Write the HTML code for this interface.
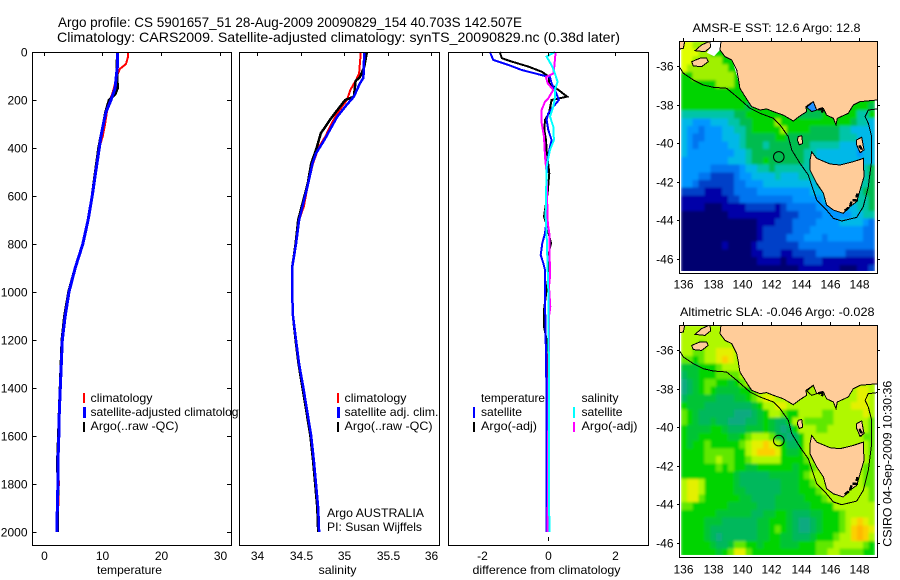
<!DOCTYPE html>
<html>
<head>
<meta charset="utf-8">
<title>Argo profile 5901657_51</title>
<style>
html,body{margin:0;padding:0;background:#fff;}
svg{display:block;position:absolute;left:0;top:0;}
text{font-family:"Liberation Sans",sans-serif;font-size:12px;fill:#000;}
.t14{font-size:14px;}
</style>
</head>
<body>
<svg id="chart" xmlns="http://www.w3.org/2000/svg" width="900" height="580" viewBox="0 0 900 580">
  <defs>
    <filter id="heat-soften" x="-5%" y="-5%" width="110%" height="110%"><feGaussianBlur stdDeviation="1.2"/></filter>
  </defs>
  <rect x="0" y="0" width="900" height="580" fill="#fff"/>
  <text class="t14" x="58" y="27" textLength="464" lengthAdjust="spacingAndGlyphs">Argo profile: CS 5901657_51 28-Aug-2009 20090829_154 40.703S 142.507E</text>
  <text class="t14" x="57" y="42" textLength="563" lengthAdjust="spacingAndGlyphs">Climatology: CARS2009. Satellite-adjusted climatology: synTS_20090829.nc (0.38d later)</text>
  <g id="p1"></g>
  <g id="p2"></g>
  <g id="p3"></g>
  <g id="m1"></g>
  <g id="m2"></g>

  <g>
    <rect x="83" y="393" width="2" height="10" fill="#f00"/>
    <rect x="83" y="407" width="3" height="11" fill="#00f"/>
    <rect x="83" y="422" width="2" height="10" fill="#000"/>
    <text x="90.5" y="402" textLength="62" lengthAdjust="spacingAndGlyphs">climatology</text>
    <text x="90.5" y="416" textLength="154" lengthAdjust="spacingAndGlyphs">satellite-adjusted climatology</text>
    <text x="90.5" y="430" textLength="88" lengthAdjust="spacingAndGlyphs">Argo(..raw -QC)</text>
  </g>
  <rect x="240" y="405" width="5" height="18" fill="#fff"/>
  <rect x="239" y="400" width="1" height="30" fill="#000"/>

  <g>
    <rect x="337" y="393" width="2" height="10" fill="#f00"/>
    <rect x="337" y="407" width="3" height="11" fill="#00f"/>
    <rect x="337" y="422" width="2" height="10" fill="#000"/>
    <text x="344.5" y="402" textLength="62" lengthAdjust="spacingAndGlyphs">climatology</text>
    <text x="344.5" y="416" textLength="94" lengthAdjust="spacingAndGlyphs">satellite adj. clim.</text>
    <text x="344.5" y="430" textLength="88" lengthAdjust="spacingAndGlyphs">Argo(..raw -QC)</text>
    <text x="327" y="517" textLength="97" lengthAdjust="spacingAndGlyphs">Argo AUSTRALIA</text>
    <text x="327" y="531" textLength="95" lengthAdjust="spacingAndGlyphs">PI: Susan Wijffels</text>
  </g>

  <g>
    <text x="481" y="402" textLength="64" lengthAdjust="spacingAndGlyphs">temperature</text>
    <rect x="473" y="407" width="2" height="11" fill="#00f"/>
    <text x="481" y="416" textLength="41" lengthAdjust="spacingAndGlyphs">satellite</text>
    <rect x="473" y="422" width="2" height="10" fill="#000"/>
    <text x="481" y="430" textLength="56" lengthAdjust="spacingAndGlyphs">Argo(-adj)</text>
    <text x="581.5" y="402" textLength="37" lengthAdjust="spacingAndGlyphs">salinity</text>
    <rect x="573" y="407" width="2" height="11" fill="#0ff"/>
    <text x="581.5" y="416" textLength="41" lengthAdjust="spacingAndGlyphs">satellite</text>
    <rect x="573" y="422" width="2" height="10" fill="#f0f"/>
    <text x="581.5" y="430" textLength="56" lengthAdjust="spacingAndGlyphs">Argo(-adj)</text>
  </g>

  <text x="97" y="574" textLength="65" lengthAdjust="spacingAndGlyphs">temperature</text>
  <text x="318.5" y="574" textLength="38" lengthAdjust="spacingAndGlyphs">salinity</text>
  <text x="472.5" y="574" textLength="148" lengthAdjust="spacingAndGlyphs">difference from climatology</text>
  <text x="692.5" y="32" textLength="168" lengthAdjust="spacingAndGlyphs">AMSR-E SST: 12.6 Argo: 12.8</text>
  <text x="680" y="316" textLength="194.5" lengthAdjust="spacingAndGlyphs">Altimetric SLA: -0.046 Argo: -0.028</text>
  <text transform="translate(891.5 546.7) rotate(-90)" x="0" y="0" textLength="166" lengthAdjust="spacingAndGlyphs">CSIRO 04-Sep-2009 10:30:36</text>
</svg>

<script>
/* ---------- profile data ---------- */
var tempDepths = [0,20,50,70,100,150,175,200,250,300,350,400,500,600,700,800,900,1000,1100,1200,1400,1500,1600,1700,1800,1900,2000];
var tempClimatology = [14.45,14.4,14.05,13.03,12.5,12.0,11.7,11.3,10.8,10.5,10.1,9.5,8.9,8.3,7.6,6.7,5.4,4.35,3.7,3.2,2.87,2.75,2.65,2.55,2.6,2.5,2.45];
var tempSatellite = [12.64,12.64,12.6,12.55,12.4,12.2,11.85,11.5,10.65,10.2,9.8,9.5,8.9,8.3,7.6,6.7,5.4,4.35,3.7,3.2,2.87,2.7,2.6,2.47,2.45,2.35,2.3];
var tempArgo = [12.6,12.6,12.5,12.5,12.5,12.6,12.2,11.2,10.6,10.2,9.8,9.4,8.85,8.3,7.6,6.7,5.4,4.3,3.6,3.15,2.85,2.7,2.55,2.4,2.45,2.4,2.4];

var salClimDepths = [0,89,113,158,200,255,297,353,394,464,547,644,700,800,900,1000,1100,1200,1300,1400,1500,1600,1700,1800,1900,2000];
var salClimatology = [35.19,35.17,35.14,35.07,35.03,34.92,34.855,34.78,34.71,34.64,34.585,34.535,34.48,34.445,34.4,34.4,34.41,34.445,34.48,34.53,34.575,34.62,34.65,34.675,34.7,34.71];
var salSatDepths = [0,108,130,186,228,269,311,367,422,464,547,644,700,800,900,1000,1100,1200,1300,1400,1500,1600,1700,1800,1900,2000];
var salSatellite = [35.23,35.22,35.18,35.11,35.01,34.92,34.855,34.77,34.675,34.635,34.585,34.52,34.48,34.445,34.4,34.4,34.41,34.445,34.48,34.53,34.575,34.62,34.65,34.675,34.7,34.71];
var salArgoDepths = [0,61,104,121,186,200,242,283,339,408,464,547,644,700,800,900,1000,1100,1200,1300,1400,1500,1600,1700,1800,1900,2000];
var salArgo = [35.26,35.23,35.18,35.13,35.11,35.01,34.92,34.835,34.73,34.675,34.62,34.58,34.51,34.47,34.44,34.4,34.4,34.41,34.44,34.475,34.52,34.565,34.61,34.64,34.665,34.69,34.7];

var diffTempSatDepths = [0,33,54,75,89,105,130,158,200,228,255,283,325,367,394,450,533,700,755,797,846,880,908,1033,1172,1367,2000];
var diffTempSat = [-1.76,-1.66,-1.2,-0.8,-0.4,0.05,0.1,0.2,0.32,0.15,0,-0.05,0,0.1,0.05,-0.02,-0.06,-0.05,-0.1,-0.18,-0.23,-0.15,-0.1,-0.1,-0.08,-0.06,-0.06];
var diffTempArgoDepths = [0,26,40,61,82,103,130,158,186,200,255,283,325,367,408,505,589,686,710,797,825,936,1075,1145,1200,2000];
var diffTempArgo = [-1.46,-1.4,-1.1,-0.6,-0.2,0.02,0.02,0.3,0.57,0.1,0.02,-0.1,-0.12,-0.07,-0.05,0.03,-0.02,-0.13,-0.07,0.08,0.03,0,-0.13,-0.13,-0.05,-0.03];
var diffSalSatDepths = [0,19,61,89,124,158,193,228,269,311,367,408,478,617,686,755,894,1033,2000];
var diffSalSat = [0.2,-0.05,0.12,0.2,0.28,0.2,0.2,0.15,0.05,0.15,0.17,0.05,-0.05,-0.07,-0.08,-0.05,-0.02,0.01,0.03];
var diffSalArgoDepths = [0,61,89,105,130,158,193,207,241,297,353,436,505,700,728,755,936,978,1061,1103,2000];
var diffSalArgo = [0.22,0.18,0.15,-0.07,-0.02,0.15,0,-0.1,-0.2,-0.2,-0.13,-0.1,-0.05,-0.02,0,0.03,0.05,0.02,0.06,0.02,-0.02];

/* ---------- axis tick labels ---------- */
var depthTicks = [0,200,400,600,800,1000,1200,1400,1600,1800,2000];
var tempTicks = [0,10,20,30];
var salTicks = [34,34.5,35,35.5,36];
var diffTicks = [-2,0,2];
var lonTicks = [136,138,140,142,144,146,148];
var latTicks = [-36,-38,-40,-42,-44,-46];

/* ---------- map fields: one character per 0.4 degree cell, north to south ---------- */
var sstField = [
"aa999 88888 88888 88888 88888 88888 888",
"aaa99 88888 88888 88888 88888 88888 888",
"aa999 99888 88888 88888 88888 88888 888",
"a9999 99988 88888 88888 88888 88888 888",
"88999 99998 88888 88888 88888 88888 888",
"88888 89998 88888 88888 88888 88888 888",
"88888 88888 88888 88888 88888 88888 888",
"88888 88888 88888 88888 88888 88888 888",
"88888 88888 87888 88888 88888 88888 887",
"66666 66667 78888 88888 77778 88888 668",
"55444 55566 77888 89888 88888 88887 665",
"54434 44556 67888 88988 88777 77665 555",
"54334 44555 67777 78877 77777 77666 555",
"54344 44455 67776 77777 77666 66555 455",
"54444 44445 56777 77777 76655 55555 455",
"44444 44455 56778 77777 76655 55555 555",
"44444 33333 45566 76666 66655 55555 567",
"44433 22223 44555 56555 66666 66666 667",
"44322 22223 34445 55555 55566 66666 667",
"22221 11223 33344 44444 44555 55666 677",
"11111 11122 33333 33334 44445 56666 667",
"11110 00111 12222 21233 33344 44555 667",
"00000 00011 11111 11222 33334 44445 566",
"00000 00000 00011 12223 33344 44555 543",
"00000 00000 00012 22223 33444 44444 433",
"00000 00000 00012 22233 34443 44444 433",
"00000 00100 00122 22222 33333 33333 333",
"00000 00000 00112 22112 22233 33322 222",
"00000 00000 00011 11011 12221 11111 111",
"00000 00000 00000 00000 11111 11000 112"
];
var slaField = [
"55555 55555 55555 55555 55555 55555 555",
"55555 55555 55555 55555 55555 55555 555",
"55545 55555 55555 55555 55555 55555 555",
"55445 56665 55555 55555 55555 55555 555",
"44345 56765 55555 55555 55555 55555 555",
"22233 34555 55555 55555 55555 55555 555",
"12233 34444 55555 55555 55555 55555 555",
"01234 43323 45555 55555 55555 55555 555",
"01234 32222 33455 55555 55555 55555 665",
"12222 21112 23456 65555 55555 55555 665",
"32221 11111 11235 56655 55555 55556 665",
"43211 11110 00123 55433 55554 45555 565",
"43211 21100 01123 21135 54444 45555 554",
"32222 33211 12223 21013 55544 55555 554",
"32233 33322 34555 42101 35555 55555 544",
"32334 33333 45667 65311 35655 55555 554",
"33334 44443 35677 76322 35555 55555 554",
"33334 45443 34555 55333 34555 55555 554",
"33333 34343 32233 33332 33455 55555 544",
"33333 33332 11111 22222 34555 55555 544",
"56653 33332 11111 11222 33455 55555 544",
"56653 33332 21111 11222 33345 55555 554",
"56643 33333 22111 12222 23334 55555 554",
"44333 33322 22211 12222 22333 35555 555",
"33333 32222 22112 23321 11223 33455 555",
"33332 22111 11122 33321 00123 33456 765",
"33332 11111 11122 34321 00123 33457 876",
"33332 10111 11122 33221 11233 34557 875",
"33333 21124 43323 33222 33344 45555 543",
"33333 32346 64333 33333 33344 55444 433"
];

/* ---------- geography (lon, lat) ---------- */
var mainlandCoast = [[138.57,-34.7],[138.5,-35.15],[138.84,-35.5],[139.3,-35.67],[139.64,-36.19],[139.75,-36.62],[139.86,-37.14],[140.36,-37.75],[140.66,-38.09],[141.23,-38.27],[141.68,-38.21],[142.14,-38.35],[142.82,-38.53],[143.5,-38.84],[143.95,-38.58],[144.41,-38.35],[144.36,-38.09],[144.86,-37.83],[145.09,-38.27],[145.55,-38.18],[145.77,-38.53],[146.23,-38.7],[146.41,-39.04],[146.5,-38.7],[147.25,-38.44],[147.59,-38.01],[148.05,-37.83],[149.23,-37.75],[149.23,-34.7]];
var tasmaniaCoast = [[144.64,-40.86],[144.75,-40.43],[145.09,-40.78],[146,-41.07],[146.68,-41.12],[147.59,-40.95],[148.27,-40.78],[148.32,-41.73],[148.05,-42.42],[147.82,-43.02],[147.36,-43.28],[146.91,-43.63],[146.23,-43.46],[145.77,-43.2],[145.55,-42.59],[145.09,-42.07],[144.64,-41.38]];
var kingIsland = [[143.84,-39.65],[144.07,-39.6],[144.14,-40],[143.91,-40.08],[143.77,-39.82]];
var flindersIsland = [[147.82,-39.82],[148.16,-39.68],[148.32,-40.34],[148.05,-40.48],[147.82,-40.08]];
var kangarooIsland = [[136.57,-35.76],[137.14,-35.58],[137.59,-35.58],[137.7,-35.76],[137.25,-36.02],[136.68,-35.98]];
var yorkePeninsula = [[136.8,-35.19],[137.25,-34.89],[137.82,-34.7],[137.86,-35.01],[137.48,-35.24]];
var eyreTip = [[135.7,-34.7],[136.1,-34.7],[136,-35.07],[135.7,-35.1]];
var portPhillip = [[144.41,-38.13],[144.86,-37.83],[145.09,-38.27],[144.75,-38.35]];
var gulfGap = [[137.82,-34.7],[138.57,-34.7],[138.5,-35.15],[138.1,-35.48],[137.6,-35.3],[137.86,-35.01]];
var coorongGap = [[139.4,-35.85],[139.64,-36.19],[139.75,-36.62],[139.86,-37.14],[139.7,-36.6]];
var isobath200 = [[135.73,-36.02],[136,-36.36],[136.68,-36.71],[137.36,-36.97],[138.05,-37.09],[138.95,-37.14],[139.64,-37.57],[140.55,-38.18],[141.23,-38.44],[142.14,-38.7],[142.59,-39.04],[143.16,-39.65],[143.39,-40.34],[143.95,-41.03],[144.52,-41.64],[144.86,-42.42],[145.09,-42.94],[145.77,-43.46],[146.23,-43.89],[146.8,-44.03],[147.82,-43.84],[148.27,-43.28],[148.61,-42.25],[148.84,-40.86],[148.84,-39.65],[148.61,-38.96],[148.39,-38.61],[148.61,-38.27],[149.23,-38.21]];
var tasmanEastRocks = [[147.0,-43.5],[147.36,-43.28],[147.5,-42.95],[147.82,-42.95],[147.85,-42.6]];
var flindersRocks = [[148.0,-40.1],[148.15,-40.3],[148.05,-40.48]];
var westernPortRocks = [[145.2,-38.25],[145.55,-38.18],[145.45,-38.4]];
var floatPosition = [142.507,-40.703];

var NS = 'http://www.w3.org/2000/svg';
function el(parent, tag, props){
  var e = document.createElementNS(NS, tag);
  for (var k in props) e.setAttribute(k, props[k]);
  parent.appendChild(e);
  return e;
}
function depthY(d){ return 52 + d * 0.24; }

function drawFrame(g, x0, x1, y0, y1, name){
  var r = el(g, 'rect', {x:x0, y:y0, width:x1-x0, height:y1-y0, fill:'none', stroke:'#000', 'stroke-width':1, 'shape-rendering':'crispEdges'});
  
  
}
function drawTick(g, x1, y1, x2, y2){
  var l = el(g, 'line', {x1:x1, y1:y1, x2:x2, y2:y2, stroke:'#000', 'stroke-width':1, 'shape-rendering':'crispEdges'});
  
  
}
function drawLabel(g, x, y, anchor, str){
  var t = el(g, 'text', {x:x, y:y, 'text-anchor':anchor});
  t.textContent = str;
  
  
}
function drawSeries(g, depths, values, xFn, color, width, name){
  var pts = depths.map(function(d, i){ return xFn(values[i]).toFixed(1) + ',' + depthY(d).toFixed(1); }).join(' ');
  var p = el(g, 'polyline', {points:pts, fill:'none', stroke:color, 'stroke-width':width, 'shape-rendering':'crispEdges'});
  
  
}

/* ---------- profile panels ---------- */
var xTemp = function(v){ return 43.5 + v * 5.87; };
var xSal  = function(v){ return 257.3 + (v - 34) * 87; };
var xDiff = function(v){ return 548.3 + v * 33.2; };

var p1 = document.getElementById('p1');
var p2 = document.getElementById('p2');
var p3 = document.getElementById('p3');

el(p1, 'rect', {x:32.5, y:52.5, width:199, height:493, fill:'#fff'});
drawSeries(p1, tempDepths, tempClimatology, xTemp, '#f00', 2, 'temperature-climatology-line');
drawSeries(p1, tempDepths, tempArgo, xTemp, '#000', 3, 'temperature-argo-line');
drawSeries(p1, tempDepths, tempSatellite, xTemp, '#00f', 3, 'temperature-satellite-line');
drawFrame(p1, 32.5, 231.5, 52.5, 545.5, 'temperature-plot-frame');
tempTicks.forEach(function(v){
  var x = Math.round(xTemp(v)) + 0.5;
  drawTick(p1, x, 52.5, x, 56);
  drawLabel(p1, x, 560, 'middle', String(v));
});
depthTicks.forEach(function(d){
  var y = Math.floor(depthY(d)) + 0.5;
  drawTick(p1, 32.5, y, 36.5, y);
  drawTick(p1, 227, y, 231.5, y);
  drawLabel(p1, 27.5, y + 4, 'end', String(d));
});

el(p2, 'rect', {x:239.5, y:52.5, width:200, height:493, fill:'#fff'});
drawSeries(p2, salClimDepths, salClimatology, xSal, '#f00', 2, 'salinity-climatology-line');
drawSeries(p2, salArgoDepths, salArgo, xSal, '#000', 2.5, 'salinity-argo-line');
drawSeries(p2, salSatDepths, salSatellite, xSal, '#00f', 2.5, 'salinity-satellite-line');
drawFrame(p2, 239.5, 439.5, 52.5, 545.5, 'salinity-plot-frame');
salTicks.forEach(function(v){
  var x = Math.round(xSal(v)) + 0.5;
  drawTick(p2, x, 52.5, x, 56);
  drawLabel(p2, x, 560, 'middle', String(v));
});

el(p3, 'rect', {x:448.5, y:52.5, width:200, height:493, fill:'#fff'});
drawSeries(p3, diffTempArgoDepths, diffTempArgo, xDiff, '#000', 2, 'difference-temperature-argo-line');
drawSeries(p3, diffTempSatDepths, diffTempSat, xDiff, '#00f', 2, 'difference-temperature-satellite-line');
drawSeries(p3, diffSalArgoDepths, diffSalArgo, xDiff, '#f0f', 2, 'difference-salinity-argo-line');
drawSeries(p3, diffSalSatDepths, diffSalSat, xDiff, '#0ff', 2, 'difference-salinity-satellite-line');
drawFrame(p3, 448.5, 648.5, 52.5, 545.5, 'difference-plot-frame');
diffTicks.forEach(function(v){
  var x = Math.round(xDiff(v)) + 0.5;
  drawTick(p3, x, 52.5, x, 56);
  drawLabel(p3, x, 560, 'middle', String(v));
});
drawTick(p3, 548.5, 537, 548.5, 541);

/* ---------- maps ---------- */
var sstPalette = ['#000070','#0000a8','#0040c8','#0074f0','#0096ff','#00b8e8','#00c4a8','#00bc50','#00d400','#a0f000','#e0ff00'];
var slaPalette = ['#10aa80','#00b85c','#00c434','#00d400','#60e800','#b0f800','#e4f000','#fcd000','#ffb800'];
var digitCodes = '0123456789a';

function drawMap(g, o){
  var xLon = function(lon){ return 683.3 + (lon - 136) * 14.67; };
  var yLat = function(lat){ return o.y36 + (-36 - lat) * 19.27; };
  var pts = function(list){ return list.map(function(p){ return xLon(p[0]).toFixed(1) + ',' + yLat(p[1]).toFixed(1); }).join(' '); };

  var clipId = o.id + '-clip';
  var defs = el(g, 'defs', {});
  var cp = el(defs, 'clipPath', {id:clipId});
  el(cp, 'rect', {x:681, y:o.top, width:194, height:o.heatBottom - o.top});
  var cp2 = el(defs, 'clipPath', {id:clipId + '-frame'});
  el(cp2, 'rect', {x:679.5, y:o.top, width:198, height:o.bottom - o.top});

  var heatClip = el(g, 'g', {'clip-path':'url(#' + clipId + ')'});
  var heat = el(heatClip, 'g', {filter:'url(#heat-soften)', 'shape-rendering':'crispEdges'});
  
  
  o.field.forEach(function(row, r){
    var cells = row.replace(/ /g, '');
    for (var c = 0; c < cells.length; c++){
      var x0 = xLon(135.84 + c * 0.4), x1 = xLon(135.84 + (c + 1) * 0.4);
      var y0 = yLat(-34.7 - r * 0.4), y1 = yLat(-34.7 - (r + 1) * 0.4);
      var cell = el(heat, 'rect', {x:x0.toFixed(1), y:y0.toFixed(1), width:(x1 - x0 + 0.5).toFixed(1), height:(y1 - y0 + 0.5).toFixed(1), fill:o.palette[digitCodes.indexOf(cells.charAt(c))]});
      
      
    }
  });

  var geo = el(g, 'g', {'clip-path':'url(#' + clipId + '-frame)'});
  if (o.gaps){
    o.gaps.forEach(function(list){ el(geo, 'polygon', {points:pts(list), fill:'#fff'}); });
  }
  [mainlandCoast, tasmaniaCoast, kingIsland, flindersIsland, kangarooIsland, yorkePeninsula, eyreTip].forEach(function(list){
    var land = el(geo, 'polygon', {points:pts(list), fill:'#ffcc99', stroke:'#000', 'stroke-width':1, 'shape-rendering':'crispEdges'});
    
    
  });
  el(geo, 'polygon', {points:pts(portPhillip), fill:o.bay, stroke:'#000', 'stroke-width':1, 'shape-rendering':'crispEdges'});
  [tasmanEastRocks, flindersRocks, westernPortRocks].forEach(function(list){
    var rocks = el(geo, 'polyline', {points:pts(list), fill:'none', stroke:'#000', 'stroke-width':2.5, 'stroke-dasharray':'5 2', 'shape-rendering':'crispEdges'});
    
    
  });
  var iso = el(geo, 'polyline', {points:pts(isobath200), fill:'none', stroke:'#000', 'stroke-width':1, 'shape-rendering':'crispEdges'});
  
  
  var marker = el(geo, 'circle', {cx:xLon(floatPosition[0]).toFixed(1), cy:yLat(floatPosition[1]).toFixed(1), r:5.3, fill:'none', stroke:'#000', 'stroke-width':1});
  
  

  drawFrame(g, 679.5, 877.5, o.top + 0.5, o.bottom + 0.5, o.id + '-frame');
  lonTicks.forEach(function(lon){
    var x = Math.round(xLon(lon)) + 0.5;
    drawTick(g, x, o.top - 3, x, o.top);
    drawLabel(g, x, o.labelY, 'middle', String(lon));
  });
  latTicks.forEach(function(lat){
    var y = Math.round(yLat(lat)) + 0.5;
    drawTick(g, 677, y, 679.5, y);
    drawTick(g, 877.5, y, 880, y);
    drawLabel(g, 673.5, y + 4, 'end', String(lat));
  });
}

drawMap(document.getElementById('m1'), {id:'sst-map', field:sstField, palette:sstPalette, y36:66.3, top:41, bottom:273, heatBottom:271, labelY:288.5, bay:'#1e90ff', gaps:[gulfGap, coorongGap]});
drawMap(document.getElementById('m2'), {id:'sla-map', field:slaField, palette:slaPalette, y36:350, top:325, bottom:557, heatBottom:555, labelY:573.5, bay:'#a8f000', gaps:null});
</script>
</body>
</html>
